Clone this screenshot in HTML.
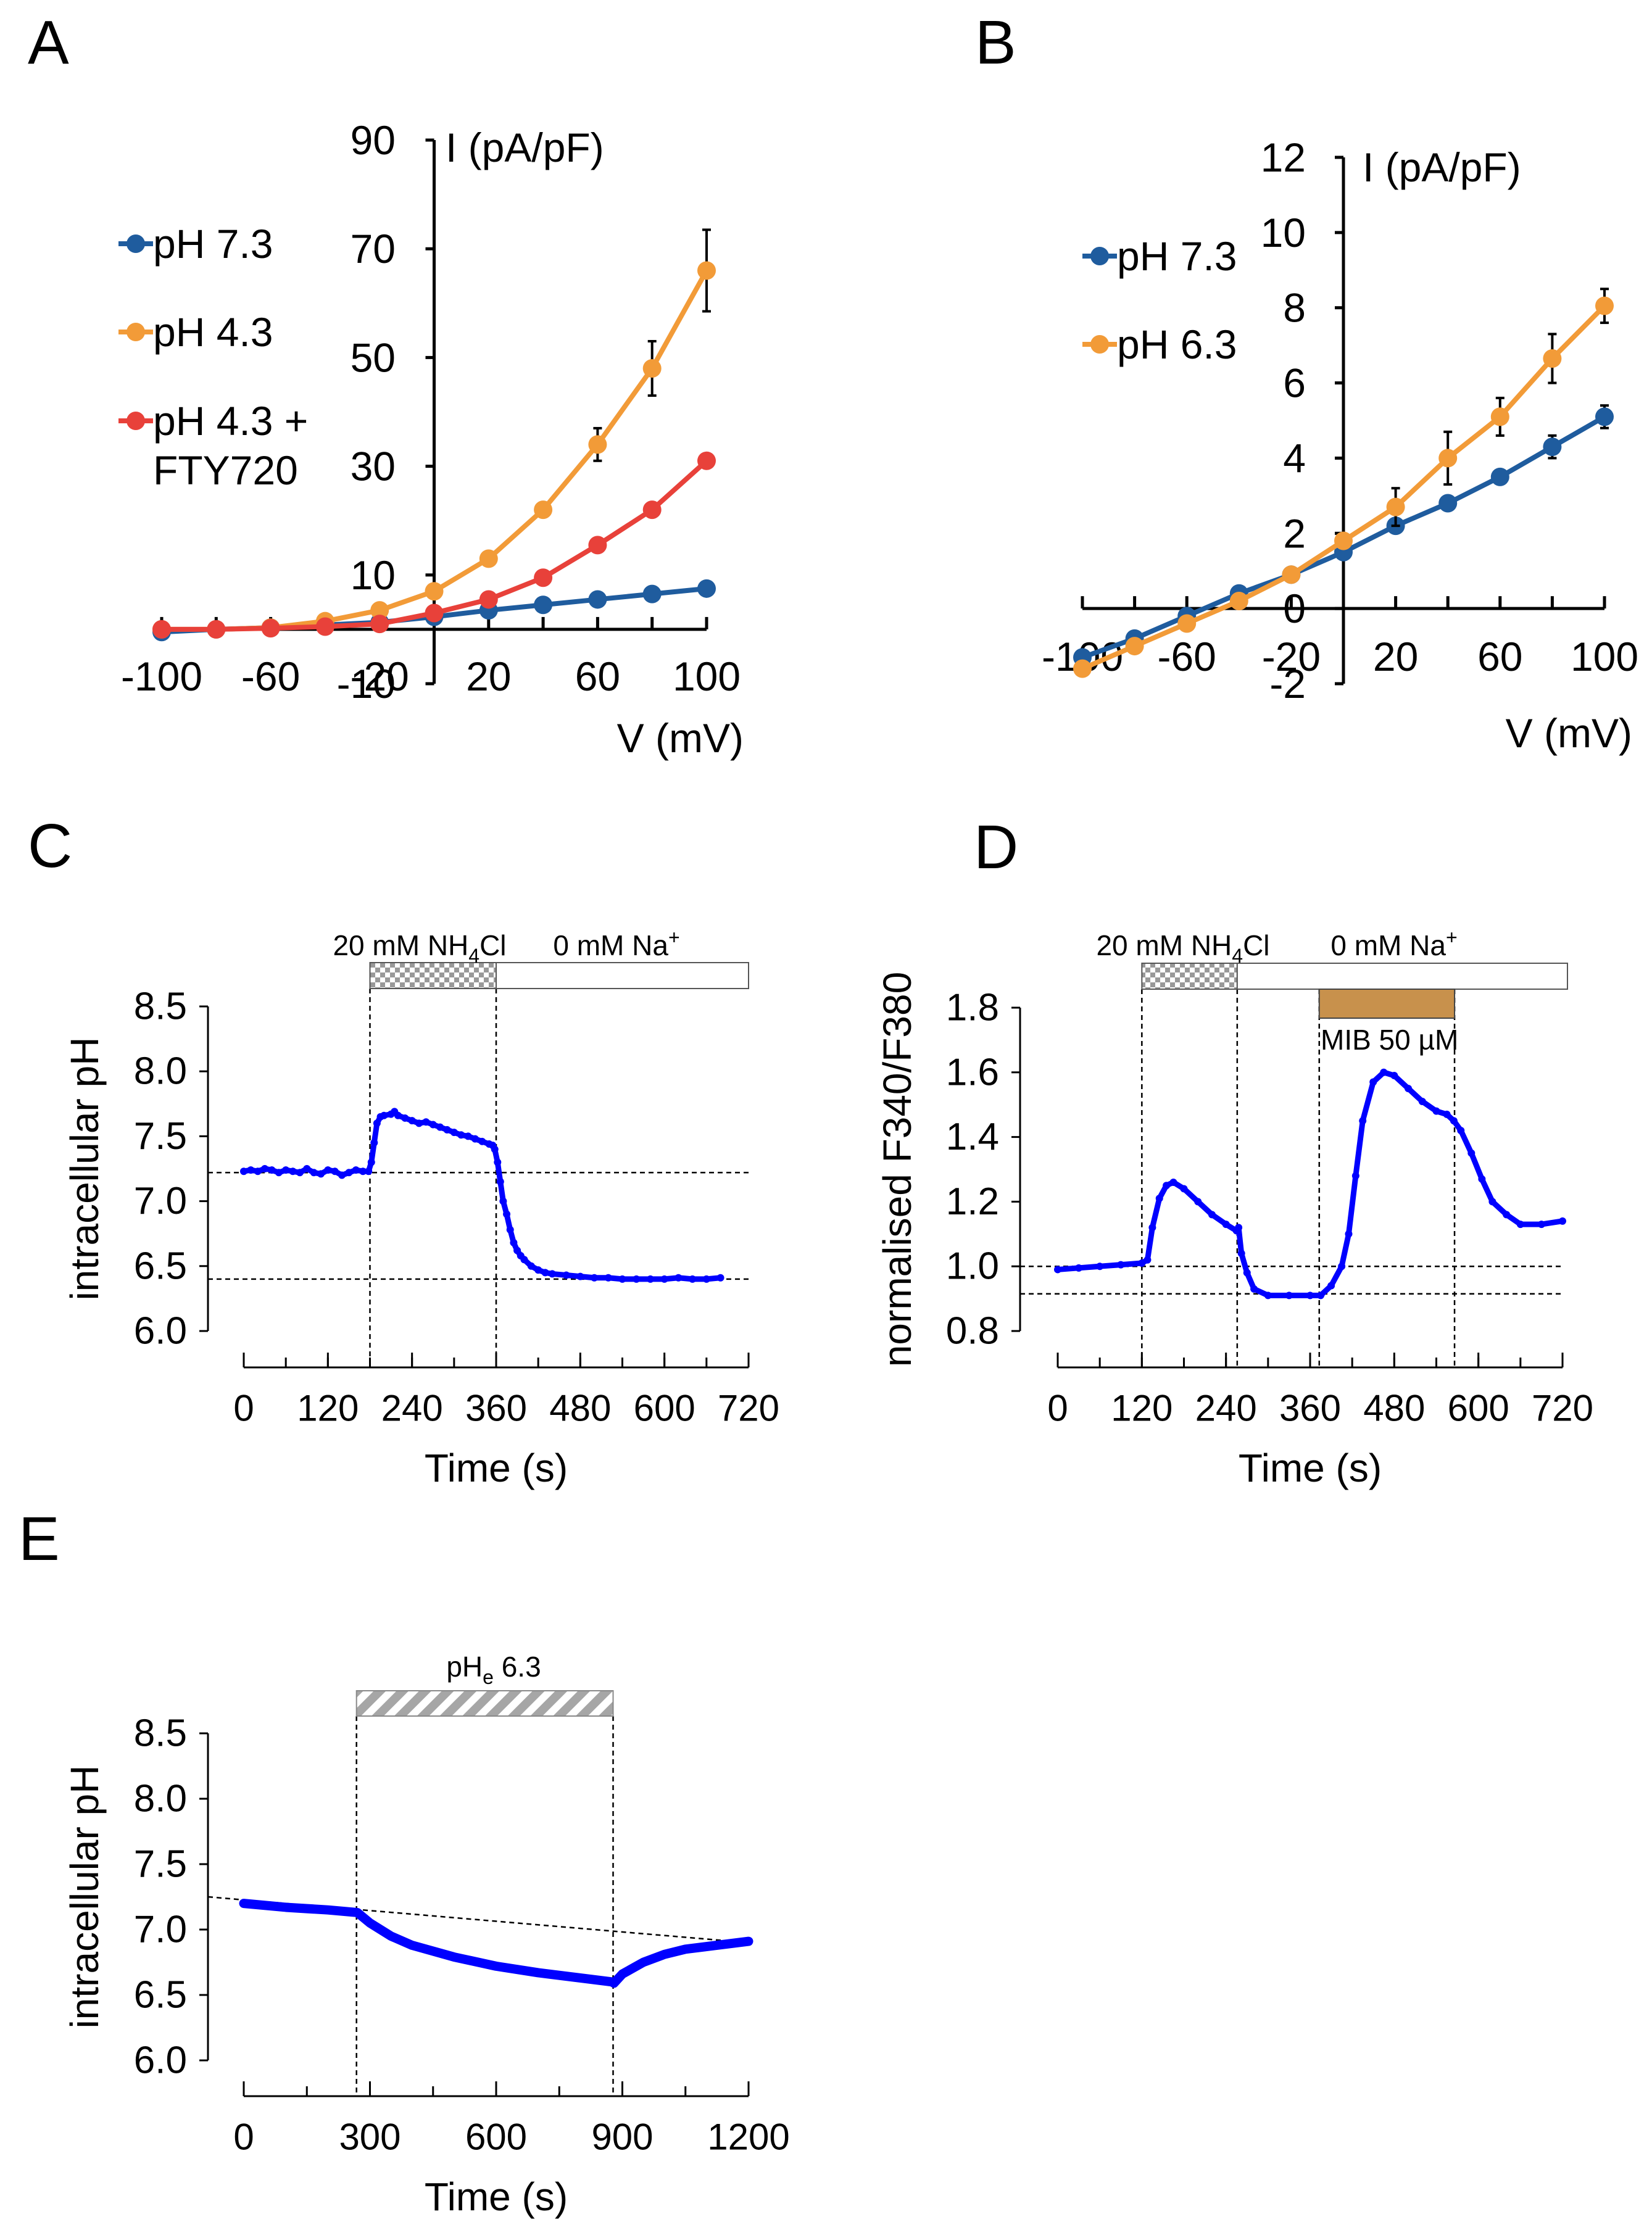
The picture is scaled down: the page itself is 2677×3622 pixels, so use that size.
<!DOCTYPE html>
<html><head><meta charset="utf-8"><style>
html,body{margin:0;padding:0;background:#fff;}
svg{display:block;font-family:"Liberation Sans",Arial,sans-serif;}
</style></head><body>
<svg id="fig" width="2677" height="3622" viewBox="0 0 2677 3622" xmlns="http://www.w3.org/2000/svg">
<defs>
<pattern id="checker" width="16" height="16" patternUnits="userSpaceOnUse"><rect width="16" height="16" fill="#fff"/><rect width="8" height="8" fill="#999"/><rect x="8" y="8" width="8" height="8" fill="#999"/></pattern>
<pattern id="hatch" width="26" height="26" patternUnits="userSpaceOnUse" patternTransform="rotate(45)"><rect width="26" height="26" fill="#fff"/><rect width="14" height="26" fill="#a6a6a6"/></pattern>
</defs>
<text x="45" y="103" font-size="100">A</text>
<text x="1580" y="103" font-size="100">B</text>
<text x="45" y="1405" font-size="100">C</text>
<text x="1578" y="1407" font-size="100">D</text>
<text x="30" y="2528" font-size="100">E</text>
<g id="gA"></g>
<g id="gB"></g>
<g id="gC"></g>
<g id="gD"></g>
<g id="gE"></g>
</svg>
<script>
// ---- Panel A data ----
const voltsA = [-100,-80,-60,-40,-20,0,20,40,60,80,100];
const aPH73 = [-0.5,0,0.3,0.8,1.3,2.3,3.5,4.5,5.5,6.5,7.5];
const aPH43 = [0,0,0.3,1.5,3.5,7,13,22,34,48,66];
const aPH43err = [0,0,0,0,0,0,0,0,3,5,7.5];
const aFTY = [0,0,0.2,0.5,1,3,5.5,9.5,15.5,22,31];
const aYTicks = [90,70,50,30,10,-10];
const aXTicks = [-100,-60,-20,20,60,100];
// ---- Panel B data ----
const voltsB = [-100,-80,-60,-40,-20,0,20,40,60,80,100];
const bPH73 = [-1.3,-0.8,-0.2,0.4,0.9,1.5,2.2,2.8,3.5,4.3,5.1];
const bPH73err = [0,0,0,0,0,0,0,0,0,0.3,0.3];
const bPH63 = [-1.6,-1.0,-0.4,0.2,0.9,1.8,2.7,4.0,5.1,6.65,8.05];
const bPH63err = [0,0,0,0,0,0,0.5,0.7,0.5,0.65,0.45];
const bYTicks = [12,10,8,6,4,2,0,-2];
const bXTicks = [-100,-60,-20,20,60,100];
// ---- Panel C data ----
const cTime = [0,10,20,30,40,50,60,70,80,90,100,110,120,130,140,150,160,170,178,182,186,190,195,200,210,215,220,230,240,250,260,270,280,290,300,310,320,330,340,350,355,358,362,366,370,375,380,385,390,395,400,410,420,430,440,460,480,500,520,540,560,580,600,620,640,660,680];
const cPH = [7.23,7.24,7.23,7.25,7.24,7.22,7.24,7.23,7.22,7.25,7.22,7.21,7.24,7.23,7.20,7.22,7.24,7.23,7.23,7.30,7.45,7.60,7.65,7.66,7.67,7.69,7.66,7.64,7.62,7.60,7.61,7.59,7.57,7.55,7.53,7.51,7.50,7.48,7.46,7.44,7.43,7.40,7.30,7.15,7.00,6.90,6.78,6.68,6.62,6.58,6.55,6.50,6.47,6.45,6.44,6.43,6.42,6.41,6.41,6.40,6.40,6.40,6.40,6.41,6.40,6.40,6.41];
const cRefLines = [7.22,6.40];
const cEvents = [180,360];
const cYTicks = [6.0,6.5,7.0,7.5,8.0,8.5];
const cXTicks = [0,120,240,360,480,600,720];
// ---- Panel D data ----
const dTime = [0,30,60,90,120,128,135,145,155,165,180,200,220,240,255,258,262,270,280,300,330,360,375,390,405,415,425,435,450,465,480,500,520,540,555,565,575,590,605,620,640,660,690,720];
const dRatio = [0.99,0.995,1.0,1.005,1.01,1.02,1.12,1.21,1.25,1.26,1.24,1.20,1.16,1.13,1.11,1.12,1.04,0.98,0.93,0.91,0.91,0.91,0.91,0.94,1.0,1.10,1.28,1.45,1.57,1.60,1.59,1.55,1.51,1.48,1.47,1.45,1.42,1.35,1.27,1.20,1.16,1.13,1.13,1.14];
const dRefLines = [1.0,0.915];
const dEvents = [120,256,373,566];
const dYTicks = [0.8,1.0,1.2,1.4,1.6,1.8];
const dXTicks = [0,120,240,360,480,600,720];
// ---- Panel E data ----
const eTime = [0,100,200,270,300,350,400,500,600,700,800,875,880,900,950,1000,1050,1100,1150,1200];
const ePH = [7.2,7.17,7.15,7.13,7.05,6.95,6.88,6.79,6.72,6.67,6.63,6.60,6.59,6.66,6.75,6.81,6.85,6.87,6.89,6.91];
const eBaseline = [7.25,6.90];
const eEvents = [268,878];
const eYTicks = [6.0,6.5,7.0,7.5,8.0,8.5];
const eXTicks = [0,300,600,900,1200];

const NS='http://www.w3.org/2000/svg';
function mk(parent,tag,attrs){const e=document.createElementNS(NS,tag);for(const k in attrs)e.setAttribute(k,attrs[k]);parent.appendChild(e);return e;}
function txt(parent,x,y,s,size,anchor){const t=mk(parent,'text',{x:x,y:y,'font-size':size,'text-anchor':anchor||'start','dominant-baseline':'central'});t.textContent=s;return t;}
function linear(d0,d1,r0,r1){return v=>r0+(v-d0)*(r1-r0)/(d1-d0);}

// ---------- IV panels ----------
function ivPanel(g,o){
  const X=linear(-100,100,o.x0,o.x1), Y=linear(o.ymin,o.ymax,o.yb,o.yt);
  const ax=X(0), ay=Y(0);
  let e=mk(g,'line',{x1:ax,y1:o.yt,x2:ax,y2:o.yb,stroke:'#000','stroke-width':5});
  
  
  e=mk(g,'line',{x1:o.x0,y1:ay,x2:o.x1,y2:ay,stroke:'#000','stroke-width':5});
  
  
  o.yticks.forEach(v=>{mk(g,'line',{x1:ax-14,y1:Y(v),x2:ax,y2:Y(v),stroke:'#000','stroke-width':5});
    const t=txt(g,o.ylabX,Y(v),String(v),66,'end');
    
    });
  for(let v=-100;v<=100;v+=20){mk(g,'line',{x1:X(v),y1:ay-20,x2:X(v),y2:ay,stroke:'#000','stroke-width':5});}
  o.xticks.forEach(v=>{const t=txt(g,X(v),o.xlabY,String(v),66,'middle');
    
    });
  let t=txt(g,o.ititleX,o.ititleY,'I (pA/pF)',66,'start');
  
  
  t=txt(g,o.vtitleX,o.vtitleY,'V (mV)',66,'end');
  
  
  o.series.forEach(s=>{
    const sg=mk(g,'g',{});
    
    
    if(s.err) s.vals.forEach((v,i)=>{if(s.err[i]>0){const x=X(voltsA[i]);
      mk(sg,'line',{x1:x,y1:Y(v-s.err[i]),x2:x,y2:Y(v+s.err[i]),stroke:'#000','stroke-width':4});
      mk(sg,'line',{x1:x-7,y1:Y(v-s.err[i]),x2:x+7,y2:Y(v-s.err[i]),stroke:'#000','stroke-width':4});
      mk(sg,'line',{x1:x-7,y1:Y(v+s.err[i]),x2:x+7,y2:Y(v+s.err[i]),stroke:'#000','stroke-width':4});}});
    mk(sg,'polyline',{points:s.vals.map((v,i)=>X(s.x[i])+','+Y(v)).join(' '),fill:'none',stroke:s.color,'stroke-width':8,'stroke-linejoin':'round'});
    s.vals.forEach((v,i)=>{const c=mk(sg,'circle',{cx:X(s.x[i]),cy:Y(v),r:15,fill:s.color});
      
      });
  });
  o.legend.forEach(l=>{
    const lg=mk(g,'g',{});
    
    
    mk(lg,'line',{x1:l.x,y1:l.y,x2:l.x+56,y2:l.y,stroke:l.color,'stroke-width':8});
    mk(lg,'circle',{cx:l.x+28,cy:l.y,r:15,fill:l.color});
    txt(lg,l.x+56,l.y,l.text[0],66,'start');
    if(l.text[1]) txt(lg,l.x+56,l.y+80,l.text[1],66,'start');
  });
}
const BLUE='#1f5c9e', ORANGE='#f29b38', RED='#e8413a';
ivPanel(document.getElementById('gA'),{x0:262,x1:1145,ymin:-10,ymax:90,yb:1108,yt:227,yticks:aYTicks,xticks:aXTicks,ylabX:641,xlabY:1096,ititleX:722,ititleY:239,vtitleX:1205,vtitleY:1196,
 series:[{name:'ph-7-3',x:voltsA,vals:aPH73,color:BLUE},{name:'ph-4-3',x:voltsA,vals:aPH43,err:aPH43err,color:ORANGE},{name:'ph-4-3-fty720',x:voltsA,vals:aFTY,color:RED}],
 legend:[{x:192,y:395,color:BLUE,text:['pH 7.3']},{x:192,y:538,color:ORANGE,text:['pH 4.3']},{x:192,y:682,color:RED,text:['pH 4.3 +','FTY720']}]});
ivPanel(document.getElementById('gB'),{x0:1754,x1:2600,ymin:-2,ymax:12,yb:1108,yt:255,yticks:bYTicks,xticks:bXTicks,ylabX:2116,xlabY:1064,ititleX:2208,ititleY:271,vtitleX:2645,vtitleY:1188,
 series:[{name:'ph-7-3',x:voltsB,vals:bPH73,err:bPH73err,color:BLUE},{name:'ph-6-3',x:voltsB,vals:bPH63,err:bPH63err,color:ORANGE}],
 legend:[{x:1754,y:415,color:BLUE,text:['pH 7.3']},{x:1754,y:558,color:ORANGE,text:['pH 6.3']}]});

// ---------- Time-course panels ----------
function tracePanel(g,o){
  const X=linear(0,o.xmax,o.x0,o.x1), Y=linear(o.ymin,o.ymax,o.yb,o.yt);
  let e=mk(g,'line',{x1:o.yax,y1:o.yt,x2:o.yax,y2:o.yb,stroke:'#000','stroke-width':3});
  
  
  o.yticks.forEach(v=>{mk(g,'line',{x1:o.yax-14,y1:Y(v),x2:o.yax,y2:Y(v),stroke:'#000','stroke-width':3});
    const t=txt(g,o.yax-34,Y(v),v.toFixed(1),62,'end');
    
    });
  e=mk(g,'line',{x1:o.x0,y1:o.xay,x2:o.x1,y2:o.xay,stroke:'#000','stroke-width':3});
  
  
  for(let v=0;v<=o.xmax;v+=o.minor){mk(g,'line',{x1:X(v),y1:o.xay,x2:X(v),y2:o.xay-16,stroke:'#000','stroke-width':3});}
  o.xticks.forEach(v=>{mk(g,'line',{x1:X(v),y1:o.xay,x2:X(v),y2:o.xay-24,stroke:'#000','stroke-width':3});
    const t=txt(g,X(v),o.xay+66,String(v),60,'middle');
    
    });
  let t=txt(g,(o.x0+o.x1)/2,o.xay+163,'Time (s)',64,'middle');
  
  
  t=txt(g,0,0,o.ytitle,64,'middle');
  t.setAttribute('transform','translate('+o.ytitleX+','+((o.yt+o.yb)/2)+') rotate(-90)');
  
  
  // reference lines
  (o.refs||[]).forEach(v=>{const l=mk(g,'line',{x1:o.yax,y1:Y(v),x2:X(o.refEnd),y2:Y(v),stroke:'#000','stroke-width':2.5,'stroke-dasharray':'8,6'});
    
    });
  (o.events||[]).forEach(v=>{const l=mk(g,'line',{x1:X(v),y1:o.evTop,x2:X(v),y2:o.xay,stroke:'#000','stroke-width':2.5,'stroke-dasharray':'8,6'});
    
    });
  if(o.baseline){const l=mk(g,'line',{x1:o.yax,y1:Y(o.baseline[0]),x2:X(o.xmax),y2:Y(o.baseline[1]),stroke:'#000','stroke-width':2.5,'stroke-dasharray':'8,6'});
    
    }
  const tg=mk(g,'g',{});
  
  
  mk(tg,'polyline',{points:o.t.map((v,i)=>X(v)+','+Y(o.v[i])).join(' '),fill:'none',stroke:'#0000ff','stroke-width':o.lw,'stroke-linejoin':'round','stroke-linecap':'round'});
  if(o.dots) o.t.forEach((v,i)=>mk(tg,'circle',{cx:X(v),cy:Y(o.v[i]),r:6,fill:'#0000ff'}));
  return X;
}
const gC=document.getElementById('gC');
const XC=tracePanel(gC,{x0:395,x1:1213,xmax:720,ymin:6,ymax:8.5,yb:2157,yt:1631,yax:337,xay:2216,yticks:cYTicks,xticks:cXTicks,minor:60,ytitle:'intracellular pH',ytitleX:137,refs:cRefLines,refEnd:720,events:cEvents,evTop:1602,t:cTime,v:cPH,lw:9,dots:true});
let r=mk(gC,'rect',{x:XC(180),y:1560,width:XC(360)-XC(180),height:42,fill:'url(#checker)',stroke:'#555','stroke-width':2});


r=mk(gC,'rect',{x:XC(360),y:1560,width:XC(720)-XC(360),height:42,fill:'#fff',stroke:'#555','stroke-width':2});


let tt=mk(gC,'text',{x:680,y:1548,'font-size':46,'text-anchor':'middle'});tt.innerHTML='20 mM NH<tspan font-size="32" dy="12">4</tspan><tspan dy="-12">Cl</tspan>';


tt=mk(gC,'text',{x:999,y:1548,'font-size':46,'text-anchor':'middle'});tt.innerHTML='0 mM Na<tspan font-size="32" dy="-18">+</tspan>';



const gD=document.getElementById('gD');
const XD=tracePanel(gD,{x0:1714,x1:2532,xmax:720,ymin:0.8,ymax:1.8,yb:2157,yt:1633,yax:1653,xay:2216,yticks:dYTicks,xticks:dXTicks,minor:60,ytitle:'normalised F340/F380',ytitleX:1454,refs:dRefLines,refEnd:720,events:dEvents,evTop:1603,t:dTime,v:dRatio,lw:9,dots:true});
r=mk(gD,'rect',{x:XD(120),y:1561,width:XD(256)-XD(120),height:42,fill:'url(#checker)',stroke:'#555','stroke-width':2});


r=mk(gD,'rect',{x:XD(256),y:1561,width:2540-XD(256),height:42,fill:'#fff',stroke:'#555','stroke-width':2});


r=mk(gD,'rect',{x:XD(373),y:1603,width:XD(566)-XD(373),height:47,fill:'#c8914c',stroke:'#444','stroke-width':2});


tt=mk(gD,'text',{x:1917,y:1548,'font-size':46,'text-anchor':'middle'});tt.innerHTML='20 mM NH<tspan font-size="32" dy="12">4</tspan><tspan dy="-12">Cl</tspan>';


tt=mk(gD,'text',{x:2259,y:1548,'font-size':46,'text-anchor':'middle'});tt.innerHTML='0 mM Na<tspan font-size="32" dy="-18">+</tspan>';


tt=txt(gD,2140,1685,'MIB 50 µM',46,'start');



const gE=document.getElementById('gE');
const XE=tracePanel(gE,{x0:395,x1:1213,xmax:1200,ymin:6,ymax:8.5,yb:3339,yt:2809,yax:337,xay:3397,yticks:eYTicks,xticks:eXTicks,minor:150,ytitle:'intracellular pH',ytitleX:137,events:eEvents,evTop:2781,baseline:eBaseline,t:eTime,v:ePH,lw:15,dots:false});
r=mk(gE,'rect',{x:XE(268),y:2740,width:XE(878)-XE(268),height:41,fill:'url(#hatch)',stroke:'#888','stroke-width':2});


tt=mk(gE,'text',{x:800,y:2717,'font-size':46,'text-anchor':'middle'});tt.innerHTML='pH<tspan font-size="32" dy="12">e</tspan><tspan dy="-12"> 6.3</tspan>';


</script>
</body></html>
